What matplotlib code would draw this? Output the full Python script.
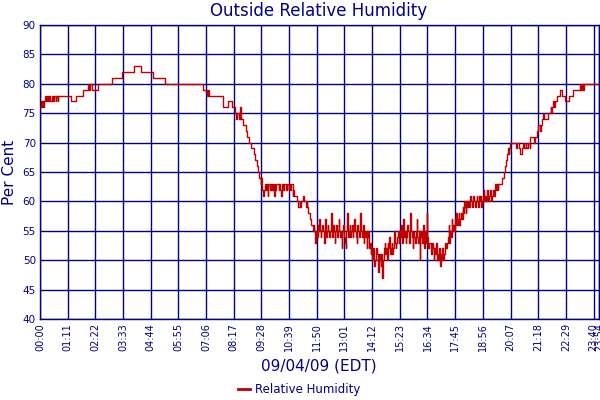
import numpy as np
import matplotlib
matplotlib.use("Agg")
import matplotlib.pyplot as plt

# ---- data (minutes after midnight, relative humidity %) ----
am_times = [0, 2, 4, 6, 8, 10, 13, 15, 18, 20, 24, 26, 30, 33, 36, 40, 42, 45, 47,
            80, 92, 111, 122, 126, 128, 133, 148, 184, 210, 240, 258, 291, 321,
            417, 428, 432, 434, 469, 483, 492, 500, 504, 506, 510, 514, 516, 522,
            528, 532, 537, 542, 548, 552, 556, 559, 562, 566, 568]
am_values = [76, 77, 76, 77, 76, 77, 78, 77, 78, 77, 78, 77, 78, 77, 78, 77, 78, 77, 78,
             77, 78, 79, 80, 79, 80, 79, 80, 81, 82, 83, 82, 81, 80,
             79, 78, 79, 78, 76, 77, 76, 75, 74, 75, 74, 76, 74, 73,
             72, 71, 70, 69, 68, 67, 66, 65, 64, 63, 64]

noisy_start = 570
noisy_step = 2
noisy_values = [
    62, 61, 62, 63, 63, 62, 63, 61, 63, 63,
    62, 63, 63, 62, 63, 61, 63, 62, 63, 63,
    63, 62, 63, 62, 61, 63, 63, 62, 63, 63,
    63, 62, 63, 63, 62, 63, 62, 63, 63, 61,
    62, 61, 61, 61, 61, 60, 59, 59, 60, 59,
    60, 60, 61, 60, 60, 60, 59, 60, 59, 58,
    58, 57, 57, 56, 56,
    55, 56, 55, 53, 55, 54, 56, 55, 57, 55,
    54, 55, 56, 55, 53, 55, 57, 54, 55, 56,
    55, 54, 55, 58, 55, 54, 56, 55, 53, 55,
    56, 54, 55, 57, 55, 54, 55, 52, 55, 56,
    54, 53, 52, 55, 58, 54, 55, 56, 54, 55,
    56, 54, 55, 57, 55, 54, 53, 56, 55, 54,
    55, 58, 55, 54, 56, 53, 55, 54, 55, 52,
    54, 55, 52, 53, 51, 52, 50, 52, 51, 49,
    50, 52, 51, 50, 48, 51, 50, 49, 51, 47,
    50, 52, 53, 51, 52, 50, 53, 52, 54, 51,
    52, 53, 51, 52, 55, 53, 52, 53, 54, 55,
    53, 55, 54, 56, 53, 55, 57, 54, 55, 53,
    54, 56, 55, 53, 54, 58, 55, 54, 52, 55,
    54, 53, 55, 57, 54, 53, 55, 50, 54, 55,
    53, 56, 54, 52, 55, 53, 58, 54, 52, 53,
    53, 52, 51, 53, 52, 50, 52, 51, 53, 50,
    51, 50, 52, 49, 51, 50, 52, 50, 51, 52,
    53, 52, 53, 54, 56, 53, 55, 54, 57, 55,
    56, 55, 57, 56, 58, 56, 57, 58, 56, 57,
    58, 57, 59, 58, 60, 59, 58, 60, 59, 60,
    59, 60, 61, 60, 59, 60, 61, 60, 59, 60,
    61, 60, 59, 61, 60, 61, 59, 60, 61, 62,
    60, 61, 60, 62, 61, 60, 61, 62, 61, 60,
    61, 62, 61, 62, 63, 62, 63, 62, 63, 63,
]

pm_times = [1180, 1186, 1190, 1192, 1195, 1197, 1200, 1202, 1204, 1206, 1221, 1224,
            1228, 1232, 1236, 1240, 1242, 1246, 1248, 1252, 1256, 1258, 1266, 1270,
            1274, 1278, 1282, 1284, 1288, 1290, 1292, 1304, 1310, 1312, 1314, 1316,
            1318, 1320, 1326, 1333, 1339, 1347, 1358, 1367, 1384, 1387, 1390, 1393,
            1396, 1434]
pm_values = [63, 64, 65, 66, 67, 68, 69, 68, 69, 70, 69, 70,
             69, 68, 69, 70, 69, 70, 69, 70, 69, 71, 70, 71,
             72, 73, 72, 73, 74, 75, 74, 75, 76, 75, 76, 77,
             76, 77, 78, 79, 78, 77, 78, 79, 80, 79, 80, 79,
             80, 80]

tick_minutes = [0, 71, 142, 213, 284, 355, 426, 497, 568, 639, 710, 781, 852,
                923, 994, 1065, 1136, 1207, 1278, 1349, 1420, 1434]
tick_labels = ["00:00", "01:11", "02:22", "03:33", "04:44", "05:55", "07:06",
               "08:17", "09:28", "10:39", "11:50", "13:01", "14:12", "15:23",
               "16:34", "17:45", "18:56", "20:07", "21:18", "22:29", "23:40", "23:54"]
y_ticks = [40, 45, 50, 55, 60, 65, 70, 75, 80, 85, 90]

# ---- assemble series ----
noisy_times = noisy_start + noisy_step * np.arange(len(noisy_values))
times = np.concatenate([am_times, noisy_times, pm_times])
values = np.concatenate([am_values, noisy_values, pm_values])

NAVY = "#000080"
RED = "#C00000"

plt.rcParams['font.family'] = ['DejaVu Sans']
fig = plt.figure(figsize=(6, 4), dpi=100)
ax = fig.add_axes([40/600, 1-319/400, 559/600, 294/400])

line, = ax.plot(times, values, drawstyle="steps-post", color=RED, lw=1.0,
                label="Relative Humidity", zorder=3)

ax.set_xlim(0, 1434)
ax.set_ylim(40, 90)
ax.set_xticks(tick_minutes)
ax.set_xticklabels(tick_labels, rotation=90, fontsize=7, color=NAVY)
ax.set_yticks(y_ticks)
ax.set_yticklabels([str(v) for v in y_ticks], fontsize=7.5, color=NAVY)
ax.tick_params(length=0, pad=3)
ax.grid(True, color=NAVY, lw=1.0, zorder=1)
for s in ax.spines.values():
    s.set_color(NAVY)
    s.set_linewidth(1.0)

fig.text(319/600, 1-11/400, "Outside Relative Humidity", ha="center", va="center",
         fontsize=12, color=NAVY)
fig.text(10/600, 1-172/400, "Per Cent", ha="center", va="center", rotation=90,
         fontsize=11, color=NAVY)
fig.text(319/600, 1-366/400, "09/04/09 (EDT)", ha="center", va="center",
         fontsize=11, color=NAVY)

leg = fig.legend(handles=[line], loc="center", bbox_to_anchor=(299/600, 1-390/400),
                 frameon=False, fontsize=8.5, handlelength=1.0, handletextpad=0.4)
for t in leg.get_texts():
    t.set_color(NAVY)
leg.get_lines()[0].set_linewidth(2)

fig.savefig("out.png", dpi=100)
